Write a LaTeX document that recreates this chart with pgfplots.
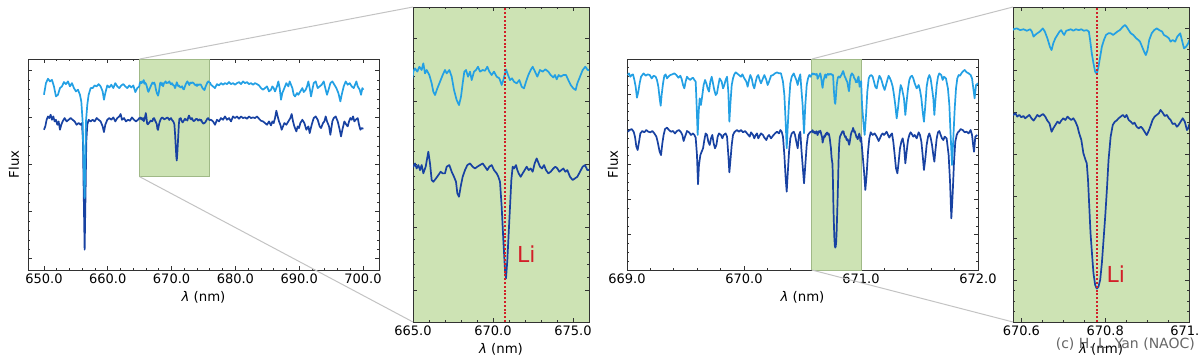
\documentclass[border=0pt]{standalone}
\usepackage{pgfplots}
\usepackage{pgfplotstable}
\pgfplotsset{compat=1.18}
\usepackage{fontspec}
\setmainfont{DejaVu Sans}
\definecolor{lightb}{RGB}{35,160,228}
\definecolor{darkb}{RGB}{24,66,162}
\definecolor{gfill}{RGB}{205,227,180}
\definecolor{gedge}{RGB}{160,185,135}
\definecolor{lired}{RGB}{210,30,40}
\definecolor{conn}{RGB}{195,195,195}
\definecolor{axc}{RGB}{50,50,50}

% low-resolution spectrum (650-700 nm), light (upper) star
\pgfplotstableread{
x y
650.000 3.489
650.313 3.737
650.627 3.830
650.940 3.773
651.254 3.808
651.567 3.667
651.881 3.454
652.194 3.489
652.508 3.631
652.821 3.667
653.135 3.759
653.448 3.716
653.762 3.773
654.075 3.667
654.389 3.737
654.702 3.631
655.016 3.560
655.329 3.596
655.643 3.489
655.852 3.347
656.061 2.922
656.217 1.999
656.374 1.291
656.479 1.999
656.583 2.922
656.792 3.277
657.001 3.489
657.315 3.631
657.628 3.631
657.941 3.688
658.255 3.667
658.568 3.716
658.882 3.667
659.195 3.560
659.404 3.383
659.613 3.525
659.927 3.688
660.240 3.645
660.554 3.702
660.867 3.631
661.181 3.737
661.494 3.667
661.808 3.631
662.121 3.688
662.435 3.716
662.748 3.667
663.062 3.631
663.375 3.688
663.689 3.645
664.002 3.688
664.316 3.546
664.629 3.631
664.943 3.667
665.021 3.736
665.125 3.762
665.271 3.736
665.396 3.775
665.542 3.749
665.646 3.802
665.750 3.722
665.854 3.749
666.021 3.709
666.167 3.643
666.271 3.576
666.375 3.550
666.521 3.603
666.688 3.656
666.854 3.709
667.000 3.749
667.104 3.722
667.271 3.749
667.417 3.696
667.563 3.590
667.729 3.510
667.875 3.470
668.000 3.537
668.104 3.643
668.208 3.736
668.313 3.749
668.438 3.696
668.563 3.736
668.667 3.669
668.813 3.736
668.938 3.749
669.063 3.775
669.188 3.736
669.354 3.749
669.500 3.743
669.646 3.775
669.771 3.736
669.917 3.709
670.063 3.736
670.229 3.696
670.396 3.683
670.542 3.630
670.646 3.669
670.813 3.754
670.938 3.709
671.063 3.669
671.188 3.683
671.313 3.656
671.479 3.643
671.646 3.669
671.792 3.616
671.938 3.603
672.063 3.656
672.208 3.709
672.354 3.749
672.479 3.775
672.625 3.736
672.771 3.696
672.938 3.749
673.104 3.736
673.271 3.754
673.458 3.736
673.604 3.709
673.771 3.690
673.875 3.709
673.979 3.675
674.104 3.709
674.229 3.696
674.396 3.709
674.563 3.709
674.708 3.669
674.854 3.630
675.021 3.603
675.167 3.590
675.271 3.643
675.438 3.696
675.604 3.749
675.771 3.775
675.917 3.749
676.021 3.749
676.175 3.702
676.489 3.667
676.802 3.631
677.116 3.716
677.429 3.688
677.743 3.737
678.056 3.702
678.370 3.737
678.683 3.716
678.997 3.759
679.310 3.716
679.624 3.737
679.937 3.702
680.251 3.737
680.564 3.759
680.878 3.716
681.191 3.773
681.505 3.737
681.818 3.759
682.132 3.716
682.445 3.737
682.759 3.702
683.072 3.737
683.386 3.716
683.699 3.688
684.013 3.631
684.326 3.596
684.640 3.631
684.953 3.667
685.266 3.560
685.580 3.596
685.789 3.667
685.998 3.631
686.207 3.560
686.520 3.667
686.729 3.773
686.938 3.631
687.147 3.383
687.356 3.525
687.670 3.631
687.983 3.737
688.297 3.667
688.506 3.773
688.715 3.702
688.924 3.631
689.133 3.489
689.342 3.454
689.655 3.525
689.864 3.489
690.178 3.560
690.491 3.631
690.700 3.546
691.014 3.596
691.223 3.667
691.432 3.773
691.641 3.631
691.850 3.454
692.059 3.596
692.268 3.737
692.581 3.773
692.895 3.631
693.208 3.667
693.522 3.702
693.835 3.773
694.148 3.596
694.357 3.489
694.671 3.631
694.880 3.737
695.193 3.773
695.507 3.702
695.820 3.631
696.134 3.525
696.447 3.347
696.656 3.489
696.970 3.667
697.283 3.773
697.597 3.702
697.910 3.737
698.224 3.667
698.537 3.631
698.746 3.702
698.955 3.773
699.164 3.667
699.478 3.596
699.687 3.489
699.896 3.631
700.052 3.596
}\lowlight

% low-resolution spectrum, dark (lower) star
\pgfplotstableread{
x y
650.000 2.745
650.209 2.816
650.418 2.957
650.627 3.028
650.836 2.993
651.045 3.064
651.254 2.957
651.463 3.028
651.672 2.922
651.881 2.957
652.090 2.851
652.299 2.922
652.508 2.745
652.717 2.851
652.926 2.922
653.239 2.993
653.553 2.922
653.866 2.957
654.180 2.993
654.493 2.957
654.807 2.922
655.120 2.851
655.434 2.887
655.747 2.851
655.956 2.887
656.113 2.496
656.217 1.503
656.374 0.191
656.531 1.503
656.635 2.496
656.792 2.851
657.001 2.957
657.315 2.922
657.628 2.957
657.941 2.922
658.255 2.993
658.568 2.957
658.882 2.922
659.195 2.816
659.404 2.695
659.613 2.851
659.927 2.957
660.240 2.993
660.554 2.957
660.867 3.007
661.181 2.922
661.494 2.993
661.808 3.028
662.017 3.078
662.226 2.957
662.539 2.993
662.853 2.922
663.166 2.957
663.480 2.936
663.793 3.007
664.107 2.957
664.420 2.922
664.734 2.957
664.943 2.993
665.021 2.980
665.125 3.006
665.229 2.966
665.333 2.993
665.438 2.953
665.542 2.993
665.646 2.927
665.792 2.980
665.958 3.099
666.063 3.006
666.167 2.874
666.271 2.860
666.438 2.887
666.583 2.913
666.729 2.940
666.854 2.927
667.000 2.927
667.104 2.980
667.271 2.993
667.417 2.940
667.563 2.900
667.688 2.860
667.771 2.768
667.875 2.741
667.979 2.821
668.104 2.900
668.250 2.953
668.396 2.993
668.563 3.006
668.729 2.980
668.875 2.966
669.021 2.980
669.188 2.993
669.354 3.006
669.500 2.980
669.646 2.953
669.771 2.980
669.917 2.993
670.063 2.953
670.229 2.927
670.333 2.900
670.438 2.860
670.542 2.661
670.646 2.396
670.750 2.157
670.813 2.091
670.896 2.237
670.979 2.449
671.063 2.661
671.146 2.874
671.229 2.980
671.313 2.966
671.438 2.993
671.521 2.953
671.604 2.927
671.729 2.900
671.854 2.927
671.979 2.953
672.104 2.980
672.229 2.953
672.354 2.966
672.479 2.940
672.604 3.006
672.729 3.046
672.854 3.006
672.938 2.980
673.063 2.966
673.188 2.993
673.313 2.953
673.458 2.927
673.604 2.940
673.771 2.966
673.896 2.980
674.021 2.966
674.146 2.940
674.271 2.953
674.396 2.966
674.521 2.940
674.646 2.953
674.813 2.900
674.979 2.874
675.125 2.887
675.271 2.900
675.438 2.940
675.604 2.980
675.750 2.993
675.896 2.953
676.021 2.953
676.175 2.957
676.489 2.922
676.802 2.851
677.116 2.957
677.429 2.922
677.743 2.993
678.056 2.957
678.370 3.028
678.683 2.957
678.997 2.993
679.310 2.922
679.624 3.028
679.937 2.993
680.251 3.028
680.564 2.979
680.878 3.028
681.191 2.993
681.505 3.007
681.818 2.979
682.132 3.028
682.445 2.993
682.759 3.007
683.072 2.993
683.386 3.028
683.699 2.979
684.013 2.936
684.326 2.922
684.640 2.887
684.953 2.851
685.266 2.922
685.580 2.837
685.789 2.922
685.998 2.887
686.207 2.993
686.416 3.149
686.625 3.028
686.834 2.922
687.043 2.851
687.252 2.745
687.461 2.816
687.670 2.887
687.983 2.851
688.297 2.922
688.610 2.993
688.819 3.078
689.028 2.922
689.237 2.816
689.551 2.709
689.760 2.816
689.969 2.780
690.178 2.887
690.491 2.957
690.805 2.887
691.118 2.745
691.432 2.816
691.641 2.674
691.954 2.851
692.268 2.993
692.581 3.028
692.895 2.957
693.208 2.816
693.417 2.780
693.731 2.887
693.940 2.922
694.148 3.028
694.357 2.922
694.671 2.816
694.880 2.638
695.193 2.922
695.402 2.993
695.716 3.028
696.029 2.922
696.343 2.745
696.552 2.603
696.761 2.745
697.074 2.922
697.388 2.851
697.597 2.816
697.806 2.922
698.015 2.993
698.224 2.957
698.433 3.028
698.642 2.922
698.851 2.957
699.164 2.993
699.373 2.851
699.582 2.745
699.791 2.780
700.052 2.766
}\lowdark

% high-resolution spectrum (669-672 nm), light (upper) star
\pgfplotstableread{
x y
669.006 1.386
669.017 1.398
669.028 1.374
669.040 1.386
669.051 1.391
669.063 1.351
669.074 1.303
669.085 1.225
669.097 1.268
669.108 1.327
669.120 1.374
669.131 1.386
669.142 1.398
669.160 1.381
669.177 1.391
669.194 1.386
669.211 1.362
669.228 1.381
669.245 1.374
669.256 1.351
669.268 1.303
669.279 1.220
669.288 1.168
669.296 1.244
669.308 1.327
669.319 1.381
669.330 1.391
669.342 1.362
669.353 1.374
669.370 1.386
669.387 1.391
669.405 1.398
669.422 1.386
669.439 1.367
669.456 1.381
669.467 1.358
669.479 1.315
669.490 1.291
669.501 1.339
669.513 1.374
669.524 1.362
669.541 1.351
669.553 1.362
669.564 1.367
669.576 1.351
669.587 1.339
669.595 1.173
669.604 0.960
669.613 1.126
669.621 1.220
669.632 1.173
669.644 1.244
669.655 1.315
669.667 1.351
669.678 1.327
669.689 1.291
669.701 1.268
669.712 1.339
669.724 1.374
669.735 1.327
669.746 1.280
669.758 1.244
669.769 1.256
669.781 1.315
669.792 1.362
669.809 1.339
669.821 1.291
669.832 1.315
669.843 1.351
669.855 1.374
669.866 1.268
669.875 1.054
669.883 1.173
669.895 1.315
669.906 1.362
669.917 1.391
669.929 1.405
669.940 1.398
669.957 1.386
669.974 1.374
669.986 1.391
670.003 1.362
670.020 1.339
670.031 1.303
670.043 1.351
670.054 1.386
670.066 1.362
670.077 1.315
670.088 1.291
670.100 1.339
670.111 1.374
670.122 1.386
670.134 1.351
670.145 1.327
670.162 1.362
670.174 1.386
670.191 1.351
670.202 1.315
670.214 1.339
670.231 1.381
670.248 1.386
670.265 1.398
670.282 1.405
670.299 1.398
670.316 1.398
670.333 1.339
670.345 1.244
670.356 1.054
670.365 0.865
670.373 1.007
670.385 1.197
670.396 1.327
670.408 1.374
670.425 1.398
670.436 1.374
670.447 1.351
670.459 1.315
670.470 1.362
670.481 1.391
670.490 1.291
670.501 1.173
670.513 0.972
670.524 1.173
670.536 1.315
670.547 1.362
670.558 1.386
670.570 1.374
670.581 1.394
670.589 1.398
670.597 1.390
670.605 1.394
670.613 1.387
670.621 1.394
670.625 1.383
670.629 1.359
670.633 1.367
670.638 1.375
670.644 1.383
670.651 1.398
670.656 1.383
670.662 1.351
670.668 1.311
670.672 1.295
670.676 1.327
670.681 1.351
670.686 1.367
670.691 1.383
670.695 1.390
670.699 1.375
670.702 1.367
670.707 1.387
670.712 1.390
670.718 1.394
670.724 1.387
670.730 1.394
670.737 1.390
670.743 1.394
670.749 1.387
670.756 1.390
670.761 1.383
670.764 1.343
670.768 1.279
670.772 1.232
670.776 1.192
670.780 1.181
670.784 1.216
670.788 1.263
670.792 1.311
670.797 1.343
670.802 1.367
670.808 1.375
670.813 1.375
670.819 1.367
670.824 1.375
670.829 1.383
670.835 1.390
670.842 1.406
670.847 1.414
670.851 1.406
670.856 1.390
670.861 1.375
670.867 1.367
670.874 1.351
670.879 1.343
670.883 1.335
670.888 1.311
670.893 1.287
670.897 1.271
670.901 1.295
670.905 1.343
670.911 1.375
670.917 1.390
670.923 1.398
670.929 1.390
670.936 1.383
670.940 1.367
670.947 1.359
670.952 1.351
670.956 1.335
670.961 1.343
670.967 1.335
670.972 1.359
670.979 1.375
670.983 1.343
670.988 1.303
670.993 1.311
670.998 1.327
671.001 1.343
671.009 1.173
671.020 1.054
671.031 0.960
671.043 1.102
671.054 1.268
671.066 1.362
671.077 1.381
671.088 1.386
671.100 1.374
671.111 1.339
671.122 1.303
671.134 1.291
671.145 1.339
671.157 1.381
671.168 1.367
671.179 1.339
671.191 1.303
671.202 1.280
671.214 1.315
671.225 1.351
671.236 1.381
671.248 1.362
671.259 1.339
671.271 1.303
671.282 1.244
671.293 1.173
671.305 1.078
671.316 1.149
671.328 1.244
671.339 1.315
671.350 1.291
671.367 1.220
671.379 1.102
671.390 1.197
671.402 1.291
671.413 1.351
671.424 1.374
671.436 1.381
671.447 1.362
671.459 1.327
671.476 1.291
671.493 1.315
671.504 1.280
671.516 1.220
671.527 1.126
671.538 1.054
671.550 1.173
671.561 1.303
671.573 1.362
671.584 1.386
671.595 1.362
671.607 1.291
671.618 1.220
671.627 1.102
671.635 1.197
671.647 1.315
671.658 1.374
671.669 1.398
671.686 1.386
671.698 1.351
671.709 1.374
671.726 1.362
671.743 1.291
671.755 1.173
671.766 0.960
671.778 0.746
671.789 0.936
671.801 1.149
671.812 1.291
671.823 1.362
671.835 1.386
671.846 1.381
671.858 1.398
671.869 1.410
671.886 1.422
671.903 1.405
671.920 1.398
671.937 1.386
671.949 1.362
671.960 1.291
671.971 1.220
671.983 1.315
672.000 1.327
}\highlight

% high-resolution spectrum, dark (lower) star
\pgfplotstableread{
x y
669.006 0.983
669.023 0.995
669.040 1.002
669.057 0.983
669.068 0.948
669.080 0.877
669.091 0.853
669.103 0.912
669.114 0.971
669.131 0.988
669.148 0.979
669.165 0.995
669.182 0.983
669.199 0.979
669.217 0.988
669.234 0.971
669.251 0.948
669.262 0.912
669.279 0.841
669.291 0.817
669.302 0.900
669.313 0.960
669.325 1.002
669.342 1.012
669.359 0.995
669.376 0.983
669.393 0.988
669.410 0.971
669.427 0.988
669.444 0.995
669.462 0.979
669.473 0.960
669.484 0.917
669.496 0.948
669.513 0.988
669.530 0.979
669.547 0.960
669.564 0.971
669.576 0.960
669.587 0.941
669.598 0.817
669.607 0.609
669.615 0.746
669.627 0.817
669.638 0.841
669.650 0.865
669.661 0.924
669.672 0.971
669.684 0.960
669.695 0.912
669.707 0.889
669.718 0.936
669.729 0.960
669.741 0.900
669.752 0.865
669.764 0.889
669.775 0.948
669.786 0.971
669.803 0.960
669.815 0.936
669.826 0.960
669.843 0.971
669.855 0.948
669.866 0.817
669.875 0.694
669.883 0.770
669.895 0.889
669.906 0.960
669.917 0.979
669.929 0.988
669.940 0.995
669.957 0.983
669.974 0.995
669.991 0.979
670.009 0.988
670.026 0.971
670.037 0.960
670.049 0.948
670.060 0.979
670.077 0.960
670.088 0.936
670.100 0.960
670.111 0.971
670.122 0.936
670.134 0.955
670.145 0.971
670.162 0.960
670.174 0.941
670.191 0.924
670.202 0.948
670.214 0.960
670.231 0.936
670.248 0.955
670.265 0.971
670.282 0.983
670.299 0.971
670.311 0.995
670.322 0.983
670.333 0.948
670.345 0.817
670.356 0.652
670.365 0.557
670.373 0.675
670.385 0.841
670.396 0.936
670.408 0.971
670.425 0.983
670.436 0.960
670.447 0.912
670.459 0.865
670.470 0.960
670.481 0.983
670.490 0.865
670.501 0.746
670.513 0.616
670.524 0.746
670.536 0.889
670.547 0.960
670.564 0.979
670.581 0.986
670.586 0.994
670.590 0.978
670.595 0.986
670.600 0.975
670.605 0.981
670.609 0.970
670.614 0.978
670.619 0.986
670.624 0.970
670.629 0.959
670.633 0.970
670.638 0.986
670.643 0.978
670.648 0.986
670.652 0.990
670.657 0.978
670.662 0.959
670.667 0.946
670.672 0.906
670.676 0.922
670.681 0.938
670.686 0.954
670.691 0.946
670.695 0.959
670.700 0.970
670.705 0.962
670.710 0.978
670.714 0.970
670.719 0.962
670.724 0.970
670.729 0.954
670.734 0.930
670.738 0.898
670.743 0.867
670.748 0.803
670.753 0.772
670.756 0.756
670.759 0.676
670.762 0.549
670.765 0.422
670.769 0.311
670.772 0.232
670.776 0.176
670.780 0.159
670.784 0.168
670.788 0.200
670.792 0.279
670.796 0.390
670.800 0.502
670.804 0.629
670.808 0.772
670.813 0.883
670.818 0.938
670.823 0.954
670.827 0.959
670.832 0.970
670.837 0.978
670.842 0.986
670.847 0.975
670.851 0.986
670.856 0.962
670.861 0.954
670.866 0.943
670.870 0.949
670.875 0.930
670.880 0.922
670.885 0.930
670.889 0.922
670.894 0.906
670.899 0.890
670.904 0.911
670.909 0.938
670.913 0.962
670.918 0.978
670.923 0.986
670.928 0.994
670.932 1.010
670.937 0.997
670.942 0.981
670.947 0.986
670.952 0.970
670.956 0.962
670.961 0.943
670.966 0.946
670.971 0.930
670.975 0.938
670.980 0.954
670.985 0.970
670.990 0.954
670.995 0.914
670.998 0.922
671.001 0.943
671.014 0.817
671.026 0.699
671.037 0.569
671.048 0.675
671.060 0.841
671.071 0.936
671.083 0.979
671.100 0.960
671.117 0.971
671.134 0.948
671.151 0.917
671.162 0.936
671.174 0.960
671.185 0.971
671.197 0.960
671.208 0.971
671.219 0.983
671.231 0.960
671.242 0.941
671.254 0.960
671.265 0.971
671.276 0.912
671.288 0.817
671.299 0.723
671.311 0.687
671.322 0.770
671.333 0.865
671.345 0.912
671.356 0.936
671.367 0.889
671.379 0.758
671.390 0.841
671.402 0.924
671.413 0.960
671.424 0.979
671.436 0.964
671.447 0.948
671.459 0.960
671.476 0.936
671.493 0.979
671.504 0.960
671.516 0.912
671.527 0.817
671.538 0.711
671.550 0.794
671.561 0.889
671.573 0.948
671.584 0.971
671.595 0.941
671.607 0.889
671.618 0.817
671.627 0.770
671.635 0.841
671.647 0.936
671.658 0.979
671.669 0.988
671.681 0.960
671.692 0.936
671.704 0.924
671.715 0.948
671.732 0.936
671.749 0.817
671.761 0.628
671.772 0.367
671.783 0.533
671.795 0.770
671.806 0.912
671.818 0.960
671.829 0.979
671.840 0.988
671.852 1.002
671.869 0.995
671.886 0.979
671.903 0.983
671.920 0.971
671.937 0.995
671.949 0.960
671.960 0.877
671.966 0.841
671.977 0.948
671.994 0.960
}\highdark

\pgfplotsset{
  spec/.style={
    scale only axis, anchor=south west, clip=true,
    axis line style={draw=axc, line width=0.8pt},
    every tick/.style={draw=axc, line width=0.8pt},
    tick align=inside, xtick pos=both, ytick pos=both,
    major tick length=4pt, minor tick length=2pt,
    yticklabels={},
    tick label style={font=\fontsize{13}{15}\selectfont},
    xlabel={\textit{λ} (nm)},
    xlabel style={font=\fontsize{13.3}{16}\selectfont, at={(axis description cs:0.5,0)}, anchor=north, inner sep=0pt, yshift=-21pt},
    ylabel style={font=\fontsize{13.3}{16}\selectfont, at={(axis description cs:-0.025,0.5)}, anchor=south, inner sep=0pt},
  },
  spl/.style={lightb, line width=1.7pt, line join=round},
  spd/.style={darkb, line width=1.7pt, line join=round},
  lidot/.style={draw=lired, line width=2pt, dash pattern=on 2pt off 1.8pt},
}

\begin{document}
\begin{tikzpicture}
\path[use as bounding box] (0pt,0pt) rectangle (1200pt,360pt);

% panel 1: full low-resolution spectrum
\begin{axis}[spec, at={(28pt,90pt)}, width=351pt, height=211pt,
  xmin=647.5, xmax=702.5, ymin=-0.24, ymax=4.25,
  xtick={650,660,670,680,690,700},
  xticklabels={650.0,660.0,670.0,680.0,690.0,700.0},
  minor x tick num=4, ytick={0,1,2,3,4}, minor y tick num=4,
  ylabel={Flux}]
\addplot[fill=gfill, draw=gedge, line width=0.8pt] coordinates {(665,1.745) (676,1.745) (676,4.25) (665,4.25) (665,1.745)};
\addplot[spd] table {\lowdark};
\addplot[spl] table {\lowlight};
\coordinate (A1) at (axis cs:665,4.25);
\coordinate (A2) at (axis cs:665,1.745);
\end{axis}

% panel 2: zoom 665-676 nm
\begin{axis}[spec, at={(413pt,38pt)}, width=176pt, height=315pt,
  axis background/.style={fill=gfill},
  xmin=665, xmax=676, ymin=1.745, ymax=4.25,
  xtick={665,670,675}, xticklabels={665.0,670.0,675.0},
  minor x tick num=4, ytick={2,2.5,3,3.5,4}, minor y tick num=4]
\addplot[spd] table {\lowdark};
\addplot[spl] table {\lowlight};
\addplot[lidot] coordinates {(670.78,1.745) (670.78,4.25)};
\node[text=lired, anchor=base west, inner sep=0pt, font=\fontsize{22}{26}\selectfont] at (axis cs:671.5,2.22) {Li};
\end{axis}

% panel 3: high-resolution spectrum
\begin{axis}[spec, at={(627pt,90pt)}, width=351pt, height=211pt,
  xmin=669, xmax=672, ymin=0, ymax=1.5,
  xtick={669,670,671,672}, xticklabels={669.0,670.0,671.0,672.0},
  minor x tick num=4, ytick={0,0.25,0.5,0.75,1,1.25,1.5}, minor y tick num=3,
  ylabel={Flux}]
\addplot[fill=gfill, draw=gedge, line width=0.8pt] coordinates {(670.58,0) (671.0,0) (671.0,1.5) (670.58,1.5) (670.58,0)};
\addplot[spd] table {\highdark};
\addplot[spl] table {\highlight};
\coordinate (B1) at (axis cs:670.58,1.5);
\coordinate (B2) at (axis cs:670.58,0);
\end{axis}

% panel 4: zoom 670.58-671.0 nm
\begin{axis}[spec, at={(1013pt,38pt)}, width=176pt, height=315pt,
  axis background/.style={fill=gfill},
  xmin=670.58, xmax=671.0, ymin=0, ymax=1.5,
  xtick={670.6,670.8,671.0}, xticklabels={670.6,670.8,671.0},
  minor x tick num=3, ytick={0,0.2,0.4,0.6,0.8,1,1.2,1.4}, minor y tick num=3]
\addplot[spd] table {\highdark};
\addplot[spl] table {\highlight};
\addplot[lidot] coordinates {(670.78,0) (670.78,1.5)};
\node[text=lired, anchor=base west, inner sep=0pt, font=\fontsize{22}{26}\selectfont] at (axis cs:670.803,0.19) {Li};
\end{axis}

% inset connector lines
\draw[conn, line width=1pt] (A1) -- (413pt,353pt);
\draw[conn, line width=1pt] (A2) -- (413pt,38pt);
\draw[conn, line width=1pt] (B1) -- (1013pt,353pt);
\draw[conn, line width=1pt] (B2) -- (1013pt,38pt);

\node[anchor=base east, inner sep=0pt, text=black!60, font=\fontsize{14}{16}\selectfont] at (1195pt,12pt) {(c) H. L. Yan (NAOC)};
\end{tikzpicture}
\end{document}
